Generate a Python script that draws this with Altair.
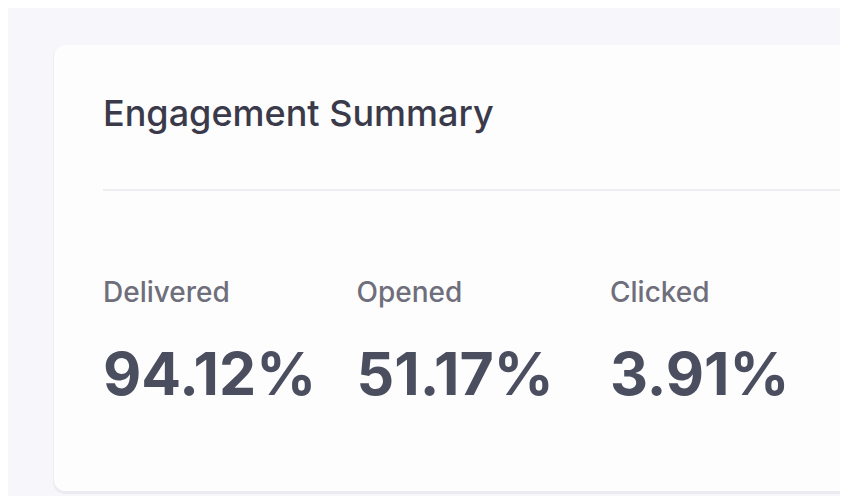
import altair as alt
import pandas as pd

title_text = "Engagement Summary"
metrics = ["Delivered", "Opened", "Clicked"]
rates = [94.12, 51.17, 3.91]

df = pd.DataFrame({"idx": list(range(len(metrics))), "metric": metrics, "rate": rates})
one = pd.DataFrame({"k": [0]})

W, H = 832, 488
FONT = "Inter"

base_one = alt.Chart(one)

shadow = base_one.mark_rect(color="#ebebf1", cornerRadius=12).encode(
    x=alt.value(45), x2=alt.value(900), y=alt.value(37), y2=alt.value(486)
)
card = base_one.mark_rect(color="#fdfdfe", cornerRadius=11).encode(
    x=alt.value(46), x2=alt.value(900), y=alt.value(37), y2=alt.value(483)
)
divider = base_one.mark_rule(color="#e7e7ec", strokeWidth=1.5).encode(
    x=alt.value(95), x2=alt.value(900), y=alt.value(182)
)
title = base_one.mark_text(
    text=title_text, font=FONT, fontSize=36, fontWeight=500, color="#3a3a4a",
    align="left", baseline="alphabetic"
).encode(x=alt.value(95), y=alt.value(118))

xenc = alt.X("idx:Q", scale=alt.Scale(domain=[0, 2], range=[95, 602]), axis=None)

labels = alt.Chart(df).mark_text(
    font=FONT, fontSize=28, fontWeight=500, color="#6f6e7b",
    align="left", baseline="alphabetic"
).encode(x=xenc, y=alt.value(294), text="metric:N")

values = alt.Chart(df).transform_calculate(
    label="format(datum.rate, '.2f') + '%'"
).mark_text(
    font=FONT, fontSize=59, fontWeight="bold", color="#4b4e5e",
    align="left", baseline="alphabetic"
).encode(x=xenc, y=alt.value(387), text="label:N")

chart = alt.layer(shadow, card, divider, title, labels, values).properties(
    width=W, height=H, padding=0, background="#f7f7fb",
    autosize=alt.AutoSizeParams(type="none")
).configure_view(stroke=None)

chart.save("out.html", embed_options={"renderer": "svg", "actions": False})
